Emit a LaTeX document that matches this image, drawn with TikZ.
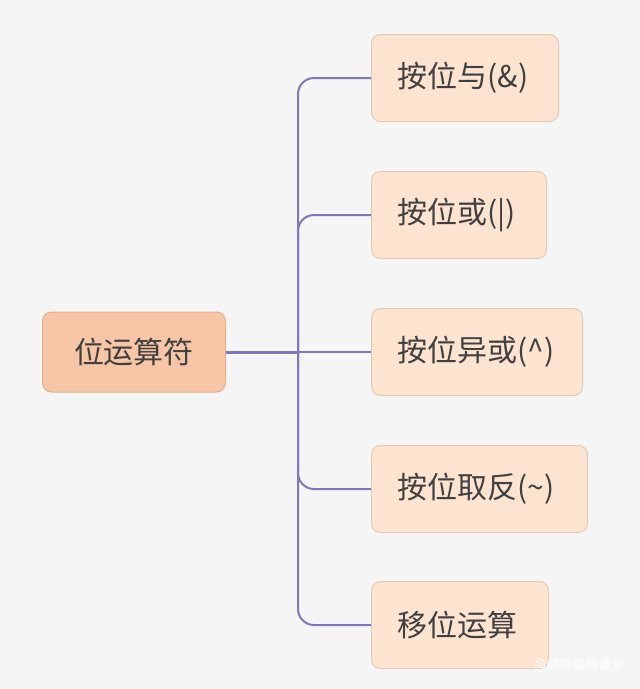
\documentclass[tikz,border=0pt]{standalone}
\usepackage{fontspec}
\setmainfont{Noto Sans CJK SC}
\begin{document}
\begin{tikzpicture}[x=1pt,y=-1pt,
  box/.style={draw=#1,line width=1pt,rounded corners=9pt,anchor=west,minimum height=87pt,text=black!75,font=\fontsize{30}{34}\selectfont},
  child/.style={box=childB,fill=childF,inner xsep=0pt,text width=#1,align=left,
    execute at begin node={\hspace*{26pt}}},
  conn/.style={draw=lineC,line width=2pt,rounded corners=16pt}]
\definecolor{bg}{HTML}{F5F5F5}
\definecolor{lineC}{HTML}{7E77BE}
\definecolor{rootF}{HTML}{F6C6A6}
\definecolor{rootB}{HTML}{E6AE8E}
\definecolor{childF}{HTML}{FDE4D0}
\definecolor{childB}{HTML}{E2CAB6}
\fill[bg] (0,0) rectangle (640,689);
\useasboundingbox (0,0) rectangle (640,689);
\node[box=rootB,fill=rootF,minimum width=183pt,minimum height=80pt,inner xsep=0pt] (root) at (42,352) {位运算符};
\node[child=187pt] (c1) at (371,78) {按位与(\&)};
\node[child=175pt] (c2) at (371,215) {按位或(|)};
\node[child=211pt] (c3) at (371,352) {按位异或(\^{})};
\node[child=216pt] (c4) at (371,489) {按位取反(\textasciitilde)};
\node[child=177pt] (c5) at (371,625) {移位运算};
\coordinate (j) at (298,352);
\foreach \c in {c1,c2,c4,c5}{\draw[conn] (j) |- (\c.west);}
\draw[conn] (root.east) -- (c3.west);
\draw[conn,line width=3pt] (root.east) -- (j);
\node[anchor=east,text=white,font=\fontsize{13}{15}\selectfont] (wm) at (628,665) {@郎哥编程课堂};
\end{tikzpicture}
\end{document}
